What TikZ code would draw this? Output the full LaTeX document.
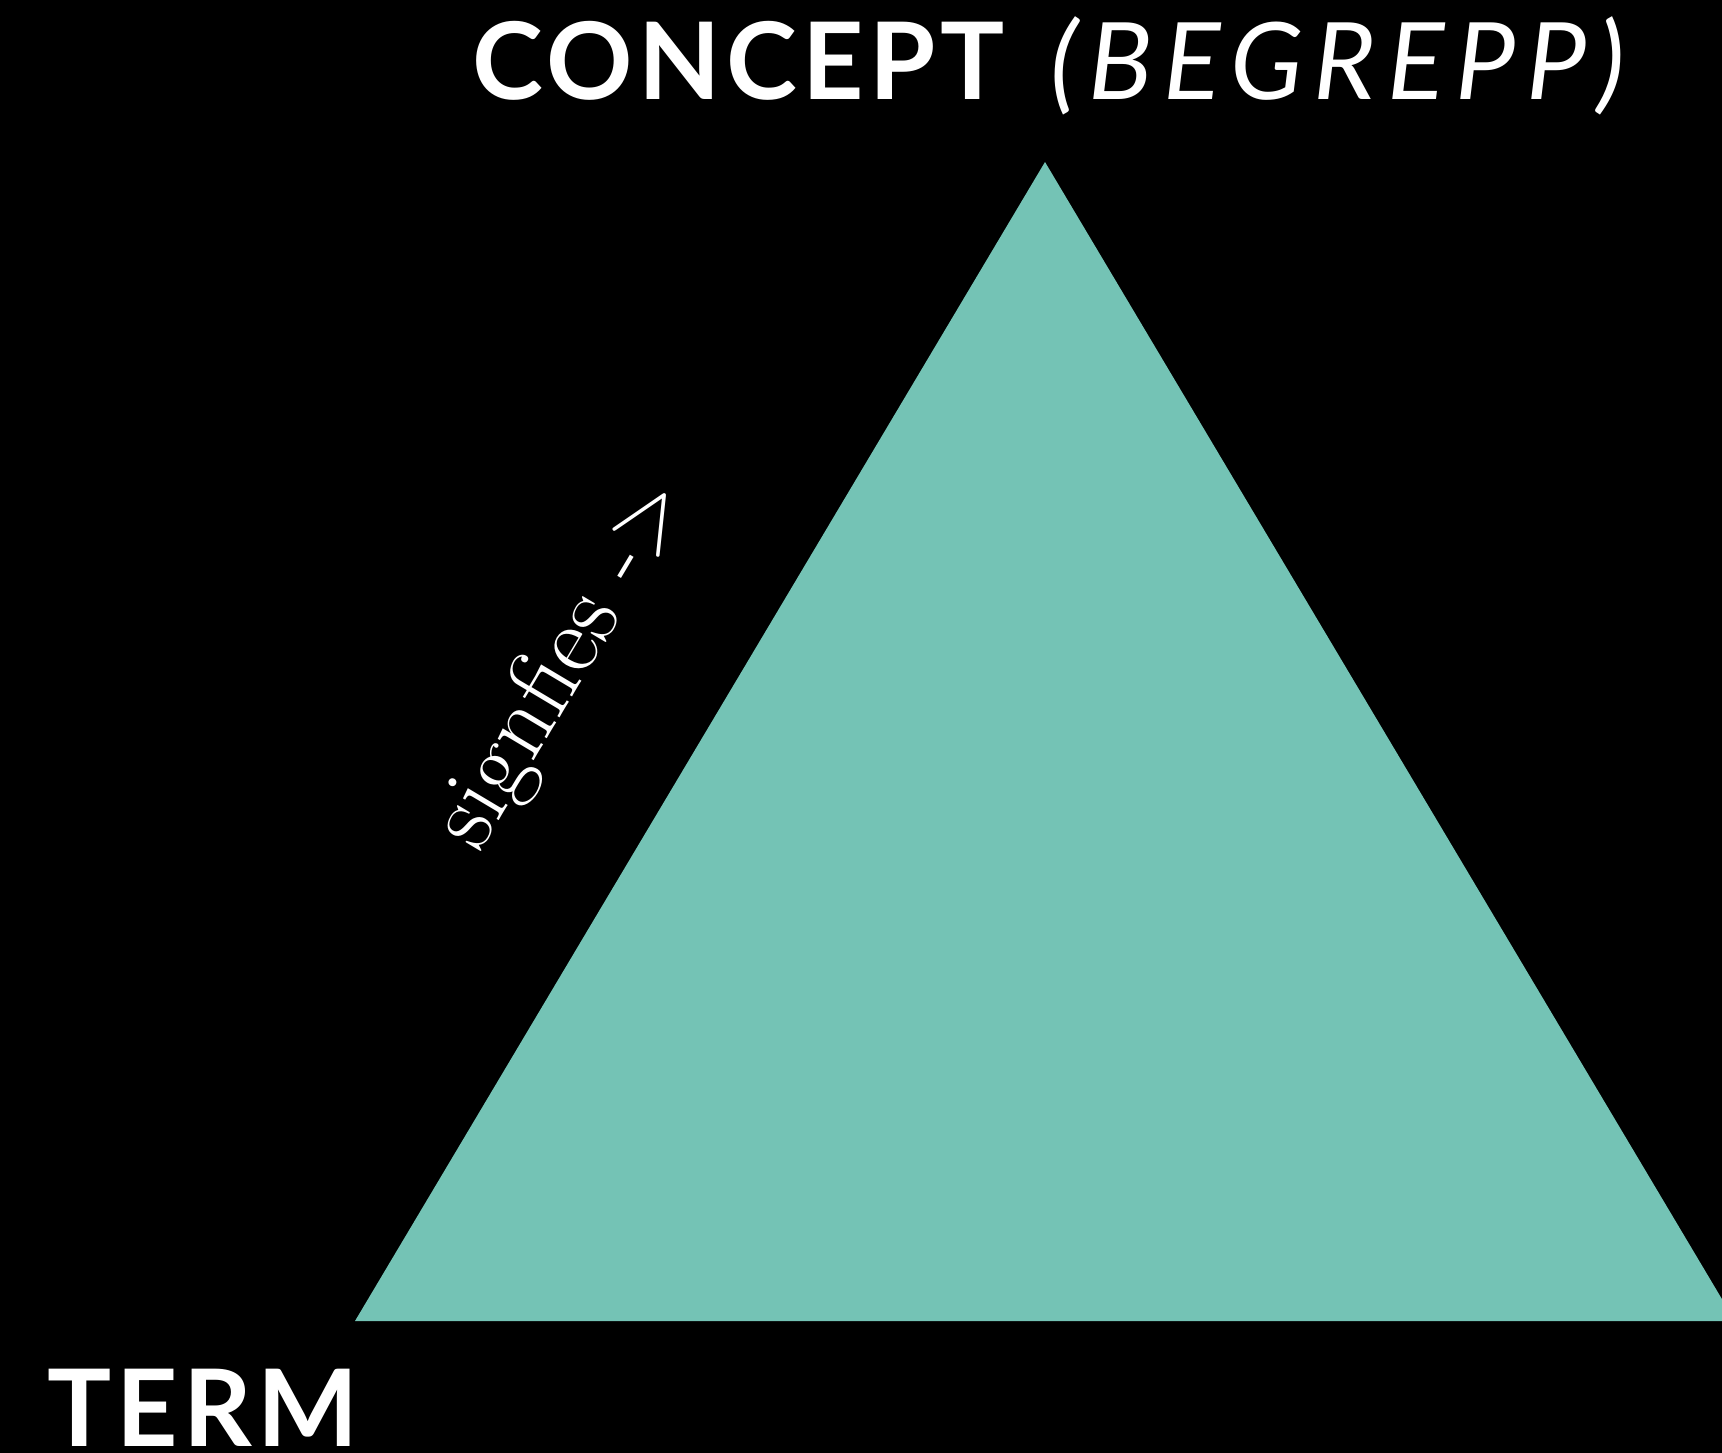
\documentclass[tikz,border=0pt]{standalone}
\usepackage{fontspec}
\newfontfamily\headfont[LetterSpace=5]{Lato}
\newfontfamily\subfont[LetterSpace=10]{Lato}
\definecolor{triteal}{RGB}{116,195,181}

\begin{document}
\begin{tikzpicture}[
  x=1pt, y=-1pt,
  head/.style={text=white, inner sep=0pt, font=\headfont\fontsize{107}{120}\selectfont},
  subhead/.style={head, font=\subfont\fontsize{107}{120}\selectfont\itshape},
  sidelabel/.style={text=white, inner sep=0pt, font=\fontsize{98}{110}\selectfont}
]
% frame and background
\fill[black] (0,0) rectangle (1722,1453);
\useasboundingbox (0,0) rectangle (1722,1453);
\clip (0,0) rectangle (1722,1453);

% the triangle, its right corner runs off the page
\coordinate (apex) at (1045,162);
\coordinate (leftcorner) at (355,1321);
\coordinate (rightcorner) at (1735,1321);
\fill[triteal] (apex) -- (leftcorner) -- (rightcorner) -- cycle;

\node[head, anchor=base west] (concept) at (472,100) {\bfseries CONCEPT};
\node[subhead, anchor=base west] (begrepp) at (1050,100) {(BEGREPP)};
\node[head, anchor=base west] (term) at (47,1446) {\bfseries TERM};

% label along the left edge
\node[sidelabel, rotate=59.2] (signifies) at (564,664) {signfies ->};

\end{tikzpicture}
\end{document}
